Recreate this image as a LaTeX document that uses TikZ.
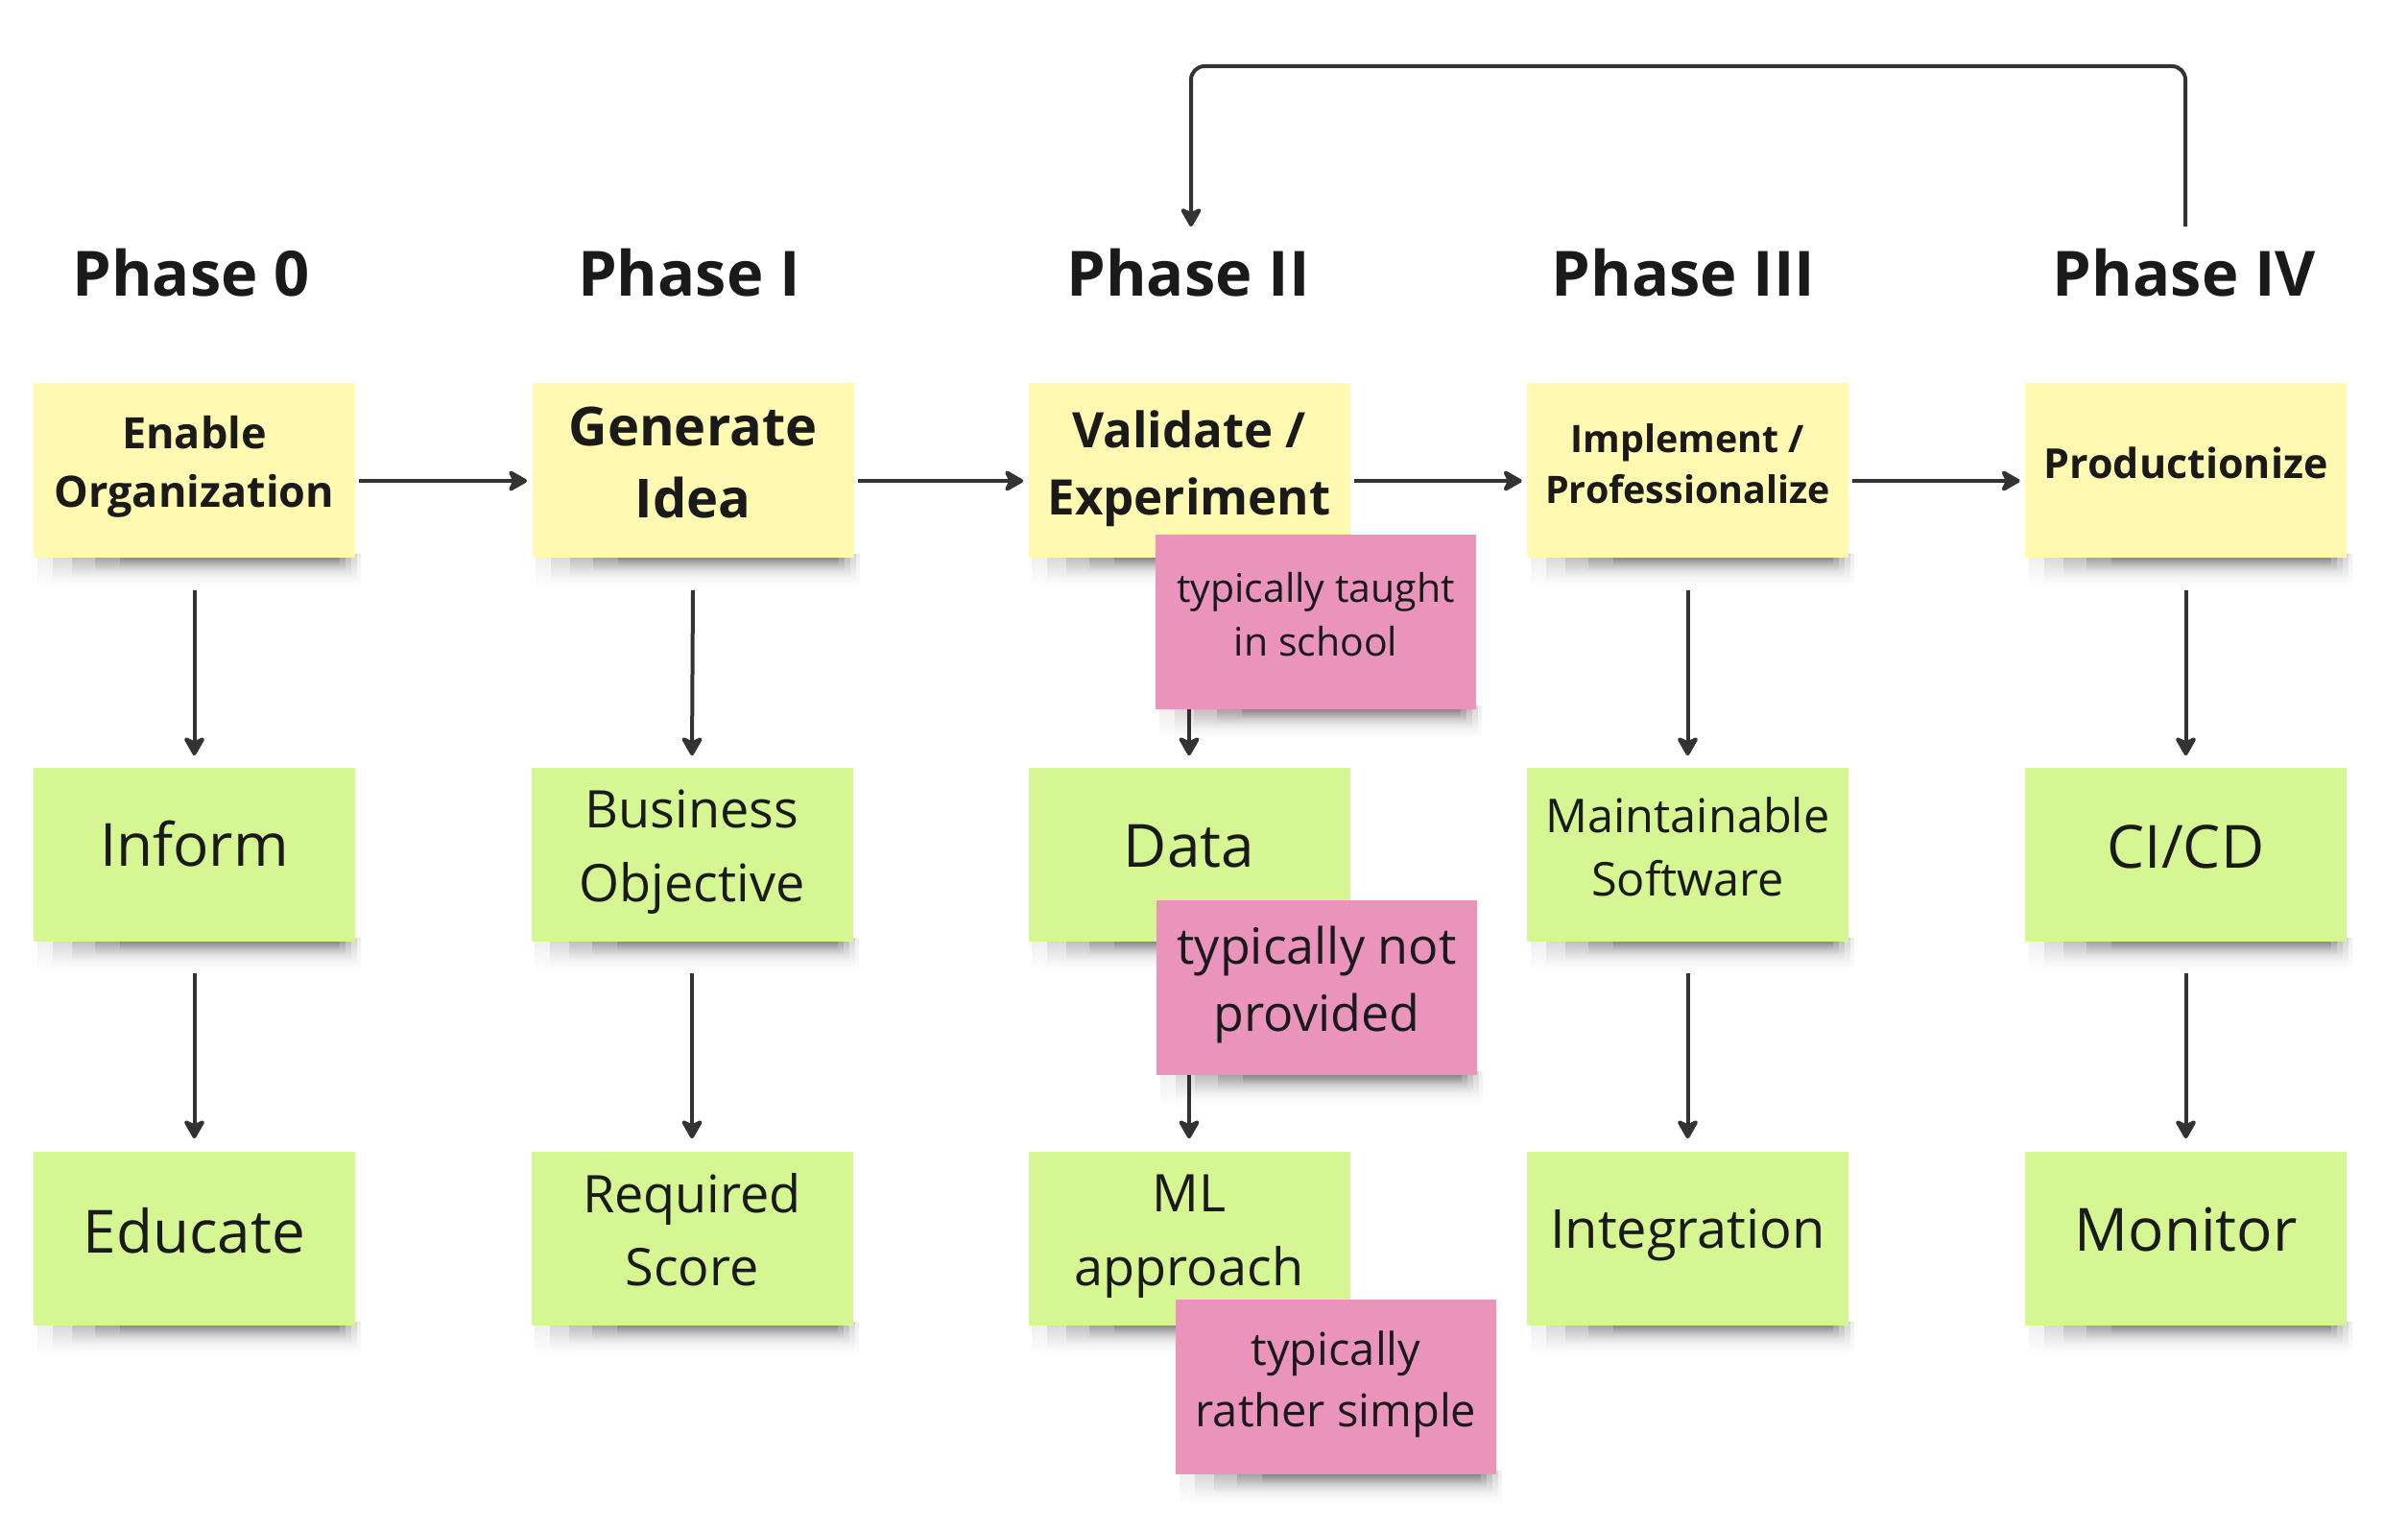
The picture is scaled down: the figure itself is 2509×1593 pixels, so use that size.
\documentclass[tikz,border=0pt]{standalone}
\usepackage{fontspec}
\setmainfont{Open Sans}
\usetikzlibrary{arrows.meta,fadings,calc}
\pgfdeclarelayer{bg}
\pgfdeclarelayer{shadow}
\pgfdeclarelayer{pshadow}
\pgfdeclarelayer{pink}
\pgfsetlayers{bg,shadow,main,pshadow,pink}
\definecolor{ylw}{HTML}{FFF9B1}
\definecolor{grn}{HTML}{D5F692}
\definecolor{pnk}{HTML}{EA94BB}
\definecolor{txt}{HTML}{1A1A1A}
\definecolor{arrc}{HTML}{333333}
\newcommand\fsz[2]{\fontsize{#1}{#2}\selectfont}
% soft shadow below a sticky note (values in pt)
\newcommand\stickyshadow[1]{%
  \fill[black, opacity=0.07, path fading=south] ([xshift=2pt,yshift=2pt]#1.south west) rectangle ([xshift=3pt,yshift=-16pt]#1.south east);
  \fill[black, opacity=0.10, path fading=south] ([xshift=10pt,yshift=2pt]#1.south west) rectangle ([xshift=1pt,yshift=-13pt]#1.south east);
  \fill[black, opacity=0.14, path fading=south] ([xshift=20pt,yshift=2pt]#1.south west) rectangle ([xshift=-2pt,yshift=-10pt]#1.south east);
  \fill[black, opacity=0.18, path fading=south] ([xshift=32pt,yshift=2pt]#1.south west) rectangle ([xshift=-5pt,yshift=-7pt]#1.south east);
  \fill[black, opacity=0.22, path fading=south] ([xshift=45pt,yshift=2pt]#1.south west) rectangle ([xshift=-8pt,yshift=-4.5pt]#1.south east);
}
\begin{document}
\begin{tikzpicture}[x=0.5pt,y=-0.5pt,
  sticky/.style={minimum width=167.5pt, minimum height=90.5pt, inner sep=0pt, draw=none},
  ystick/.style={sticky, fill=ylw},
  gstick/.style={sticky, fill=grn},
  pstick/.style={sticky, fill=pnk, minimum width=167pt, minimum height=91pt},
  lt/.style={text=txt, align=center, inner sep=0pt},
  title/.style={text=txt, font=\bfseries\fsz{32.5}{38}, inner sep=0pt},
  arr/.style={draw=arrc, line width=2pt, -{Stealth[length=11.5pt,width=13pt,inset=3pt,round]}}
]
\begin{pgfonlayer}{bg}
\fill[white] (0,0) rectangle (2509,1593);
\end{pgfonlayer}
\useasboundingbox (0,0) rectangle (2509,1593);

% titles
\node[title] (ph0) at (199,284) {Phase 0};
\node[title] (ph1) at (718,284) {Phase I};
\node[title] (ph2) at (1238,284) {Phase II};
\node[title] (ph3) at (1754,284) {Phase III};
\node[title] (ph4) at (2276,284) {Phase IV};

% yellow row
\node[ystick, label={[lt, yshift=1.6pt, font=\bfseries\fsz{22.5}{30.5}]center:{Enable\\Organization}}] (y0) at (202.5,490) {};
\node[ystick, label={[lt, yshift=4pt, font=\bfseries\fsz{28}{37.5}]center:{Generate\\Idea}}] (y1) at (722,490) {};
\node[ystick, label={[lt, yshift=1pt, font=\bfseries\fsz{25.5}{35}]center:{Validate /\\Experiment}}] (y2) at (1239,490) {};
\node[ystick, label={[lt, yshift=3.5pt, font=\bfseries\fsz{19.7}{26.5}]center:{Implement /\\Professionalize}}] (y3) at (1758.5,490) {};
\node[ystick, label={[lt, yshift=4pt, font=\bfseries\fsz{21.5}{26}]center:{Productionize}}] (y4) at (2277.5,490) {};

% green row 1
\node[gstick, label={[lt, yshift=5.6pt, font=\fsz{31}{38}]center:{Inform}}] (a0) at (202.5,890) {};
\node[gstick, label={[lt, yshift=1pt, font=\fsz{27}{38.5}]center:{Business\\Objective}}] (a1) at (721,890) {};
\node[gstick, label={[lt, yshift=4pt, font=\fsz{31}{38}]center:{Data}}] (a2) at (1239,890) {};
\node[gstick, label={[lt, yshift=4pt, font=\fsz{24.3}{33}]center:{Maintainable\\Software}}] (a3) at (1758.5,890) {};
\node[gstick, label={[lt, yshift=4pt, font=\fsz{31}{38}]center:{CI/CD}}] (a4) at (2277.5,890) {};

% green row 2
\node[gstick, label={[lt, yshift=4pt, font=\fsz{31}{38}]center:{Educate}}] (b0) at (202.5,1290) {};
\node[gstick, label={[lt, yshift=4.6pt, font=\fsz{27}{38}]center:{Required\\Score}}] (b1) at (721,1290) {};
\node[gstick, label={[lt, yshift=1pt, font=\fsz{27}{38.5}]center:{ML\\approach}}] (b2) at (1239,1290) {};
\node[gstick, label={[lt, yshift=1.6pt, font=\fsz{28}{38}]center:{Integration}}] (b3) at (1758.5,1290) {};
\node[gstick, label={[lt, yshift=4.6pt, font=\fsz{31}{38}]center:{Monitor}}] (b4) at (2277.5,1290) {};

% pink notes
\begin{pgfonlayer}{pink}
\node[pstick, label={[lt, yshift=4pt, font=\fsz{20.5}{28}]center:{typically taught\\in school}}] (p1) at (1371,648) {};
\node[pstick, label={[lt, yshift=1.6pt, font=\fsz{26}{35}]center:{typically not\\provided}}] (p2) at (1372,1029) {};
\node[pstick, label={[lt, yshift=1.6pt, font=\fsz{23.5}{32}]center:{typically\\rather simple}}] (p3) at (1392,1445) {};
\end{pgfonlayer}

% shadows
\begin{pgfonlayer}{shadow}
\foreach \n in {y0,y1,y2,y3,y4,a0,a1,a2,a3,a4,b0,b1,b2,b3,b4} {\stickyshadow{\n}}
\end{pgfonlayer}
\begin{pgfonlayer}{pshadow}
\foreach \n in {p1,p2,p3} {\stickyshadow{\n}}
\end{pgfonlayer}

% horizontal arrows
\foreach \s/\t in {y0/y1,y1/y2,y2/y3,y3/y4}
  \draw[arr] ([xshift=2pt,yshift=-5.5pt]\s.east) -- ([xshift=-2.5pt,yshift=-5.5pt]\t.west);

% vertical arrows
\foreach \i in {0,...,4} {
  \draw[arr] ([yshift=-17pt]y\i.south) -- ([yshift=6pt]a\i.north);
  \draw[arr] ([yshift=-16.5pt]a\i.south) -- ([yshift=6.5pt]b\i.north);
}

% loop arrow
\coordinate (lpS) at (2277,236);
\coordinate (lpE) at (1241,236);
\coordinate (lpT) at (0,69);
\draw[arr, rounded corners=7pt] (lpS) -- (lpS |- lpT) -| (lpE);
\end{tikzpicture}
\end{document}
